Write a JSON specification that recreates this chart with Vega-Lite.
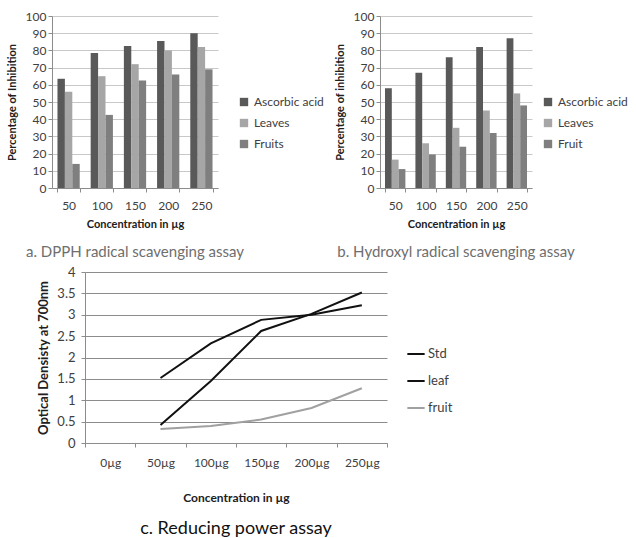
{
  "$schema": "https://vega.github.io/schema/vega-lite/v6.json",
  "padding": {"left": 5, "top": 10, "right": 0, "bottom": 0},
  "background": "white",
  "config": {
    "font": "Lato",
    "view": {"stroke": null},
    "axis": {"labelColor": "#404040", "titleColor": "#202020", "domainColor": "#8c8c8c", "tickColor": "#8c8c8c", "tickSize": 4, "labelFont": "Lato", "titleFont": "Lato"},
    "legend": {"labelColor": "#404040", "labelFont": "Lato"}
  },
  "resolve": {"scale": {"color": "independent", "x": "independent", "y": "independent", "xOffset": "independent"}, "legend": {"color": "independent"}},
  "spacing": 6,
  "vconcat": [
    {
      "spacing": 0,
      "resolve": {"scale": {"color": "independent", "x": "independent", "y": "independent", "xOffset": "independent"}, "legend": {"color": "independent"}},
      "hconcat": [
        {
          "width": 1,
          "height": 10,
          "data": {"values": []},
          "mark": {"type": "point", "opacity": 0},
          "encoding": {}
        },
        {
          "spacing": 10,
          "resolve": {"scale": {"color": "independent", "x": "independent", "y": "independent", "xOffset": "independent"}, "legend": {"color": "independent"}},
          "hconcat": [
            {
              "width": 166,
              "height": 172,
              "data": {"values": [
                {"conc": "50", "series": "Ascorbic acid", "value": 63.5},
                {"conc": "50", "series": "Leaves", "value": 56},
                {"conc": "50", "series": "Fruits", "value": 14},
                {"conc": "100", "series": "Ascorbic acid", "value": 78.5},
                {"conc": "100", "series": "Leaves", "value": 65},
                {"conc": "100", "series": "Fruits", "value": 42.5},
                {"conc": "150", "series": "Ascorbic acid", "value": 82.5},
                {"conc": "150", "series": "Leaves", "value": 72},
                {"conc": "150", "series": "Fruits", "value": 62.5},
                {"conc": "200", "series": "Ascorbic acid", "value": 85.5},
                {"conc": "200", "series": "Leaves", "value": 80},
                {"conc": "200", "series": "Fruits", "value": 66},
                {"conc": "250", "series": "Ascorbic acid", "value": 90},
                {"conc": "250", "series": "Leaves", "value": 82},
                {"conc": "250", "series": "Fruits", "value": 69}
              ]},
              "mark": {"type": "bar"},
              "encoding": {
                "x": {"field": "conc", "type": "ordinal", "sort": ["50", "100", "150", "200", "250"],
                  "scale": {"paddingInner": 0.33, "paddingOuter": 0.165},
                  "axis": {"title": "Concentration in µg", "labelAngle": 0, "tickBand": "extent", "labelFontSize": 12, "titleFontSize": 11, "titleFontWeight": "bold", "labelPadding": 8, "titlePadding": 7}},
                "xOffset": {"field": "series", "type": "nominal", "sort": ["Ascorbic acid", "Leaves", "Fruits"]},
                "y": {"field": "value", "type": "quantitative", "scale": {"domain": [0, 100]},
                  "axis": {"title": "Percentage  of Inhibition", "values": [0, 10, 20, 30, 40, 50, 60, 70, 80, 90, 100], "gridColor": "#c8c8c8", "labelFontSize": 12, "titleFontSize": 11, "titleFontWeight": "bold", "titlePadding": 8}},
                "color": {"field": "series", "type": "nominal", "sort": ["Ascorbic acid", "Leaves", "Fruits"],
                  "scale": {"domain": ["Ascorbic acid", "Leaves", "Fruits"], "range": ["#595959", "#a6a6a6", "#7f7f7f"]},
                  "legend": {"title": null, "orient": "none", "legendX": 186, "legendY": 80, "symbolType": "square", "symbolSize": 70, "symbolStrokeWidth": 0, "labelFontSize": 12, "labelOffset": 4, "rowPadding": 9, "symbolOpacity": 1}}
              },
              "title": {"text": "a. DPPH radical scavenging assay", "orient": "bottom", "anchor": "middle", "frame": "group", "fontSize": 15, "fontWeight": "normal", "color": "#6e6e6e", "offset": 16}
            },
            {
              "width": 152,
              "height": 172,
              "data": {"values": [
                {"conc": "50", "series": "Ascorbic acid", "value": 58},
                {"conc": "50", "series": "Leaves", "value": 16.5},
                {"conc": "50", "series": "Fruit", "value": 11},
                {"conc": "100", "series": "Ascorbic acid", "value": 67},
                {"conc": "100", "series": "Leaves", "value": 26},
                {"conc": "100", "series": "Fruit", "value": 19.5},
                {"conc": "150", "series": "Ascorbic acid", "value": 76},
                {"conc": "150", "series": "Leaves", "value": 35},
                {"conc": "150", "series": "Fruit", "value": 24},
                {"conc": "200", "series": "Ascorbic acid", "value": 82},
                {"conc": "200", "series": "Leaves", "value": 45},
                {"conc": "200", "series": "Fruit", "value": 32},
                {"conc": "250", "series": "Ascorbic acid", "value": 87},
                {"conc": "250", "series": "Leaves", "value": 55},
                {"conc": "250", "series": "Fruit", "value": 48}
              ]},
              "mark": {"type": "bar"},
              "encoding": {
                "x": {"field": "conc", "type": "ordinal", "sort": ["50", "100", "150", "200", "250"],
                  "scale": {"paddingInner": 0.33, "paddingOuter": 0.165},
                  "axis": {"title": "Concentration in µg", "labelAngle": 0, "tickBand": "extent", "labelFontSize": 12, "titleFontSize": 11, "titleFontWeight": "bold", "labelPadding": 8, "titlePadding": 7}},
                "xOffset": {"field": "series", "type": "nominal", "sort": ["Ascorbic acid", "Leaves", "Fruit"]},
                "y": {"field": "value", "type": "quantitative", "scale": {"domain": [0, 100]},
                  "axis": {"title": "Percentage of inhibition", "values": [0, 10, 20, 30, 40, 50, 60, 70, 80, 90, 100], "gridColor": "#c8c8c8", "labelFontSize": 12, "titleFontSize": 11, "titleFontWeight": "bold", "titlePadding": 8}},
                "color": {"field": "series", "type": "nominal", "sort": ["Ascorbic acid", "Leaves", "Fruit"],
                  "scale": {"domain": ["Ascorbic acid", "Leaves", "Fruit"], "range": ["#595959", "#a6a6a6", "#7f7f7f"]},
                  "legend": {"title": null, "orient": "none", "legendX": 162, "legendY": 80, "symbolType": "square", "symbolSize": 70, "symbolStrokeWidth": 0, "labelFontSize": 12, "labelOffset": 4, "rowPadding": 9, "symbolOpacity": 1}}
              },
              "title": {"text": "b. Hydroxyl radical scavenging assay", "orient": "bottom", "anchor": "middle", "frame": "group", "fontSize": 15, "fontWeight": "normal", "color": "#6e6e6e", "offset": 16}
            }
          ]
        }
      ]
    },
    {
      "spacing": 0,
      "resolve": {"scale": {"color": "independent", "x": "independent", "y": "independent"}, "legend": {"color": "independent"}},
      "hconcat": [
        {
          "width": 32,
          "height": 10,
          "data": {"values": []},
          "mark": {"type": "point", "opacity": 0},
          "encoding": {}
        },
        {
          "width": 302,
          "height": 171,
          "data": {"values": [
            {"conc": "50µg", "series": "Std", "od": 1.52},
            {"conc": "100µg", "series": "Std", "od": 2.33},
            {"conc": "150µg", "series": "Std", "od": 2.88},
            {"conc": "200µg", "series": "Std", "od": 3.0},
            {"conc": "250µg", "series": "Std", "od": 3.22},
            {"conc": "50µg", "series": "leaf", "od": 0.42},
            {"conc": "100µg", "series": "leaf", "od": 1.45},
            {"conc": "150µg", "series": "leaf", "od": 2.62},
            {"conc": "200µg", "series": "leaf", "od": 3.02},
            {"conc": "250µg", "series": "leaf", "od": 3.52},
            {"conc": "50µg", "series": "fruit", "od": 0.33},
            {"conc": "100µg", "series": "fruit", "od": 0.4},
            {"conc": "150µg", "series": "fruit", "od": 0.55},
            {"conc": "200µg", "series": "fruit", "od": 0.82},
            {"conc": "250µg", "series": "fruit", "od": 1.28}
          ]},
          "mark": {"type": "line", "strokeWidth": 2},
          "encoding": {
            "x": {"field": "conc", "type": "ordinal", "bandPosition": 0.5,
              "scale": {"type": "band", "domain": ["0µg", "50µg", "100µg", "150µg", "200µg", "250µg"], "paddingInner": 0, "paddingOuter": 0},
              "axis": {"title": "Concentration in µg", "labelAngle": 0, "tickBand": "extent", "labelFontSize": 12, "titleFontSize": 12, "titleFontWeight": "bold", "labelPadding": 10, "titlePadding": 24, "domainColor": "#8c8c8c"}},
            "y": {"field": "od", "type": "quantitative", "scale": {"domain": [0, 4]},
              "axis": {"title": "Optical Densisty at 700nm", "format": "~g", "values": [0, 0.5, 1, 1.5, 2, 2.5, 3, 3.5, 4], "gridColor": "#8c8c8c", "labelFontSize": 13, "titleFontSize": 13, "titleFontWeight": "bold", "titlePadding": 6, "labelPadding": 6}},
            "color": {"field": "series", "type": "nominal", "sort": ["Std", "leaf", "fruit"],
              "scale": {"domain": ["Std", "leaf", "fruit"], "range": ["#111111", "#111111", "#a0a0a0"]},
              "legend": {"title": null, "orient": "none", "legendX": 321, "legendY": 72, "symbolType": "stroke", "symbolStrokeWidth": 2, "symbolSize": 300, "labelFontSize": 13, "rowPadding": 10, "labelOffset": 2}}
          },
          "title": {"text": "c. Reducing power assay", "orient": "bottom", "anchor": "middle", "frame": "group", "fontSize": 18, "fontWeight": "normal", "color": "#111111", "offset": 17}
        }
      ]
    }
  ]
}
